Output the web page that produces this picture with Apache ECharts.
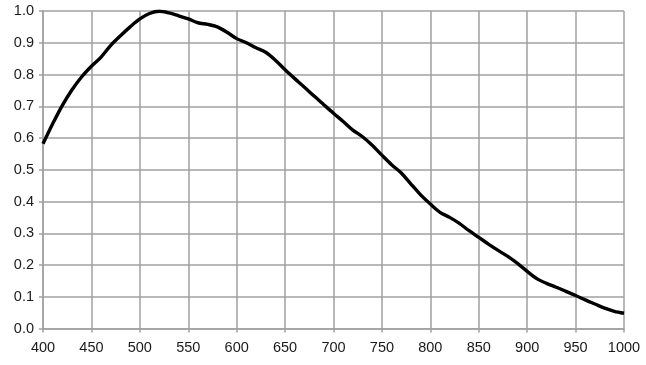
<!DOCTYPE html>
<html>
<head>
<meta charset="utf-8">
<script src="https://cdn.jsdelivr.net/npm/echarts@6/dist/echarts.min.js"></script>
<style>html,body{margin:0;padding:0;background:#fff}#c{width:646px;height:365px}</style>
</head>
<body>
<div id="c"></div>
<script>
var wavelengths = [400,410,420,430,440,450,460,470,480,490,500,510,520,530,540,550,560,570,580,590,600,610,620,630,640,650,660,670,680,690,700,710,720,730,740,750,760,770,780,790,800,810,820,830,840,850,860,870,880,890,900,910,920,930,940,950,960,970,980,990,1000];
var response = [0.582,0.645,0.703,0.752,0.793,0.826,0.855,0.892,0.922,0.950,0.975,0.992,0.999,0.994,0.985,0.975,0.963,0.958,0.950,0.933,0.913,0.900,0.884,0.870,0.845,0.815,0.787,0.760,0.732,0.705,0.678,0.652,0.625,0.604,0.577,0.546,0.516,0.490,0.455,0.421,0.392,0.366,0.350,0.331,0.308,0.287,0.266,0.246,0.227,0.205,0.180,0.157,0.142,0.130,0.117,0.104,0.090,0.077,0.064,0.054,0.048];

var pts = wavelengths.map(function(w,i){return [w,response[i]];});
var chart = echarts.init(document.getElementById('c'), null, {renderer:'canvas'});
var gridColor = '#a0a0a0';
var font = {fontFamily:'Liberation Sans, Arial, sans-serif', fontSize:14.5, color:'#1a1a1a'};
chart.setOption({
  animation:false,
  grid:{left:43,right:22,top:11,bottom:36.5,containLabel:false},
  xAxis:{type:'value',min:400,max:1000,interval:50,
    axisLine:{show:true,lineStyle:{color:gridColor,width:1.5}},
    axisTick:{show:true,length:4,lineStyle:{color:gridColor,width:1.5}},
    splitLine:{show:true,lineStyle:{color:gridColor,width:1.5}},
    axisLabel:Object.assign({margin:12,showMinLabel:true,showMaxLabel:true,formatter:function(v){return String(v);}},font)},
  yAxis:{type:'value',min:0,max:1,interval:0.1,
    axisLine:{show:true,lineStyle:{color:gridColor,width:1.5}},
    axisTick:{show:true,length:4,lineStyle:{color:gridColor,width:1.5}},
    splitLine:{show:true,lineStyle:{color:gridColor,width:1.5}},
    axisLabel:Object.assign({margin:9,formatter:function(v){return v.toFixed(1);}},font)},
  series:[{type:'line',data:pts,showSymbol:false,smooth:0.3,
    lineStyle:{color:'#000',width:3.4}}]
});
</script>
</body>
</html>
